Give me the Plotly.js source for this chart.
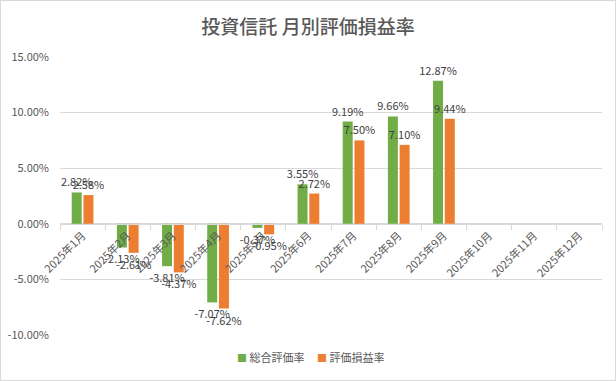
<!DOCTYPE html>
<html>
<head>
<meta charset="utf-8">
<script src="https://cdn.plot.ly/plotly-3.0.1.min.js"></script>
<style>
html,body{margin:0;padding:0;background:#fff;}
#wrap{width:614px;height:379px;border:1px solid #d9d9d9;}
</style>
</head>
<body>
<div id="wrap"><div id="chart" style="width:614px;height:379px;"></div></div>
<script>
const categories = ["2025年1月","2025年2月","2025年3月","2025年4月","2025年5月","2025年6月","2025年7月","2025年8月","2025年9月","2025年10月","2025年11月","2025年12月"];
const seriesNames = ["総合評価率", "評価損益率"];
const totalRate = [2.82, -2.13, -3.81, -7.07, -0.37, 3.55, 9.19, 9.66, 12.87, null, null, null];
const pnlRate   = [2.58, -2.61, -4.37, -7.62, -0.95, 2.72, 7.50, 7.10, 9.44, null, null, null];
const yTickVals = [-10, -5, 0, 5, 10, 15];
const yTickText = ["-10.00%", "-5.00%", "0.00%", "5.00%", "10.00%", "15.00%"];
const colors = ['#70AD47', '#ED7D31'];

const fmt = v => v === null ? "" : v.toFixed(2) + "%";
const FONT = '"Noto Sans CJK JP", "Noto Sans", sans-serif';

const traces = [totalRate, pnlRate].map((vals, i) => ({
  type:'bar', name:seriesNames[i], x:categories, y:vals, text:vals.map(fmt),
  textposition:'outside', constraintext:'none', cliponaxis:false,
  textfont:{size:11, color:'#404040', family:FONT},
  marker:{color:colors[i]}, hoverinfo:'skip', showlegend:false
}));

const legendX = [0.322, 0.471];
const annotations = seriesNames.map((n, i) => ({
  xref:'paper', yref:'paper', x:legendX[i], y:-0.079, xanchor:'left', yanchor:'middle',
  showarrow:false,
  text:'<span style="color:' + colors[i] + ';font-size:10px">■</span> ' + n,
  font:{size:11, color:'#595959', family:FONT}
}));

const layout = {
  width:614, height:379,
  margin:{l:59, r:13, t:56, b:45},
  paper_bgcolor:'#fff', plot_bgcolor:'#fff',
  font:{family:FONT, color:'#595959', size:11},
  title:{text:'投資信託 月別評価損益率', x:0.5, xanchor:'center', y:0.93, yanchor:'middle',
         font:{size:19, color:'#595959', family:FONT, weight:500}},
  barmode:'group', bargap:0.48, bargroupgap:0.15,
  showlegend:false,
  annotations:annotations,
  xaxis:{type:'category', anchor:'free', position:0.4, tickangle:-45,
         showline:true, linecolor:'#D9D9D9', linewidth:1,
         ticks:'outside', tickson:'boundaries', ticklen:5, tickcolor:'#D9D9D9',
         showgrid:false, tickfont:{size:11, color:'#595959'}, fixedrange:true},
  yaxis:{range:[-10,15], tickvals:yTickVals, ticktext:yTickText,
         showgrid:true, gridcolor:'#D9D9D9', gridwidth:1, zeroline:false,
         showline:false, ticks:'', ticklabelstandoff:10,
         tickfont:{size:11, color:'#595959'}, fixedrange:true}
};

Plotly.newPlot('chart', traces, layout, {displayModeBar:false, staticPlot:true});
</script>
</body>
</html>
